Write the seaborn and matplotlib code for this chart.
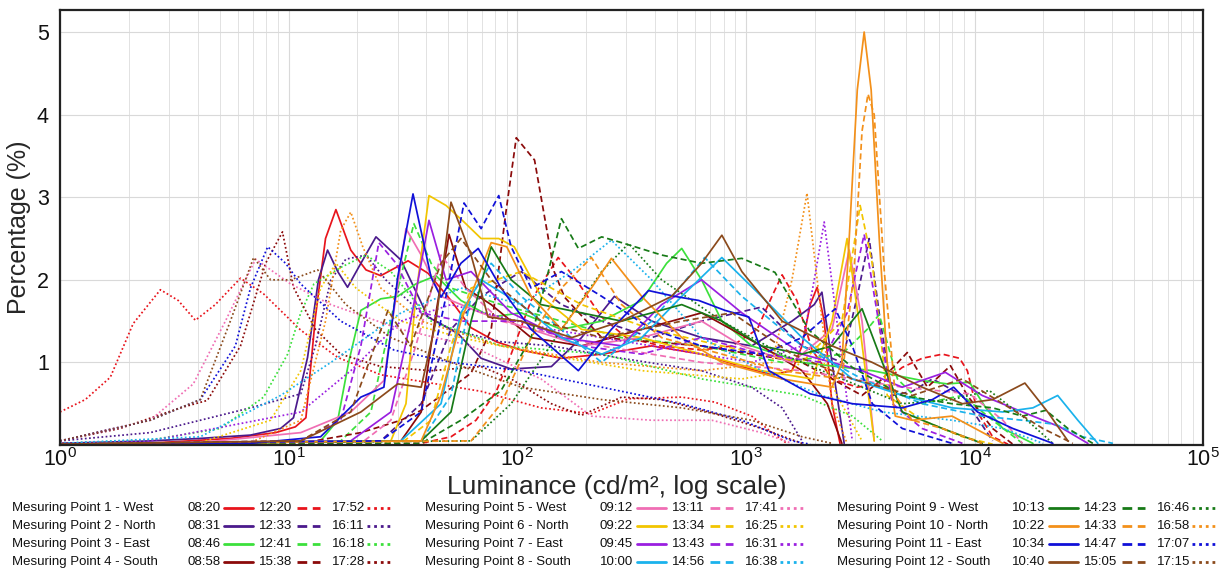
import matplotlib
matplotlib.use("Agg")
import matplotlib.pyplot as plt
from matplotlib.lines import Line2D
from matplotlib.ticker import LogLocator, FixedLocator, NullFormatter
import seaborn as sns

# ---- data: luminance (cd/m²) and percentage (%) ----
# Point 1 - West
p1_0820_lum = [1, 2.75, 5.56, 8.77, 10.7, 11.9, 13.1, 14.5, 16.1, 18.7, 21.8, 25.3, 29.5, 33.3, 40.7, 51.3, 62.8, 81, 104, 156, 234, 387, 640, 960, 1300, 1590, 1760, 1910, 2050, 2200, 2380, 2580]
p1_0820_pct = [0.02, 0.03, 0.08, 0.15, 0.22, 0.33, 1.55, 2.5, 2.85, 2.36, 2.12, 2.05, 2.15, 2.23, 2.08, 1.75, 1.42, 1.25, 1.15, 1.05, 1.1, 1.2, 1.1, 0.95, 0.85, 0.9, 1.2, 1.7, 1.91, 1.5, 0.5, 0.02]
p1_1220_lum = [1, 18.7, 38, 51.3, 66, 81, 94, 115, 151, 181, 234, 300, 428, 640, 870, 1120, 1300, 1440, 1670, 1950, 2380, 3070, 3950, 4830, 5900, 7240, 8600, 9300, 10300, 12000, 14000]
p1_1220_pct = [0.01, 0.01, 0.02, 0.1, 0.3, 0.65, 1.1, 1.75, 2.27, 2.0, 1.55, 1.3, 1.2, 1.15, 1.2, 1.4, 1.8, 2.06, 1.75, 1.15, 0.8, 0.7, 0.75, 0.94, 1.05, 1.1, 1.05, 0.9, 0.4, 0.1, 0.01]
p1_1752_lum = [1, 1.29, 1.66, 2.09, 2.75, 3.29, 3.91, 4.78, 6.16, 7.77, 11.3, 16.4, 25.3, 42, 69.5, 127, 211, 307, 524, 730, 1060, 1300, 1510]
p1_1752_pct = [0.4, 0.55, 0.82, 1.47, 1.88, 1.75, 1.51, 1.7, 2.02, 1.83, 1.39, 1.06, 0.85, 0.75, 0.65, 0.45, 0.38, 0.56, 0.58, 0.52, 0.35, 0.15, 0.02]

# Point 2 - North
p2_0831_lum = [1, 2.48, 4.11, 6.81, 9.22, 10.5, 12.1, 13.5, 14.8, 16.4, 18.1, 20.7, 24.1, 31, 40.7, 55, 69.5, 94, 141, 191, 266, 387, 640, 1060, 1590, 1990, 2150, 2380, 2690]
p2_0831_pct = [0.02, 0.05, 0.08, 0.12, 0.2, 0.33, 1.06, 2.0, 2.36, 2.1, 1.91, 2.2, 2.52, 2.24, 1.55, 1.35, 1.05, 0.92, 0.95, 1.3, 1.8, 1.5, 1.3, 1.2, 1.5, 1.7, 1.85, 1.0, 0.02]
p2_1233_lum = [1, 11.3, 25.3, 38, 51.3, 69.5, 104, 156, 234, 387, 640, 1170, 1760, 2630, 3070, 3460, 3870, 4370, 5340, 6540, 8850, 12000]
p2_1233_pct = [0.01, 0.02, 0.05, 0.5, 1.4, 1.8, 2.1, 1.7, 1.5, 1.3, 1.5, 1.67, 1.2, 1.0, 1.8, 2.5, 1.5, 0.6, 0.65, 0.8, 0.6, 0.05]
p2_1611_lum = [1, 2.48, 4.11, 6.81, 11.3, 13.1, 15.3, 17.8, 21.8, 26.6, 38, 51.3, 85, 141, 286, 640, 1060, 1440, 1760]
p2_1611_pct = [0.05, 0.15, 0.3, 0.45, 0.62, 1.2, 2.0, 2.25, 2.3, 2.0, 1.6, 1.4, 1.25, 1.2, 1.05, 0.9, 0.7, 0.45, 0.05]

# Point 3 - East
p3_0846_lum = [1, 6.81, 13.8, 16.4, 18.3, 20.7, 25.3, 30, 36, 44.1, 56.7, 76.9, 104, 156, 234, 350, 450, 524, 640, 785, 1060, 1760, 3570, 5900, 7600, 9500, 11200, 13300, 18000]
p3_0846_pct = [0.01, 0.02, 0.05, 0.3, 1.0, 1.63, 1.77, 1.8, 1.95, 2.05, 1.75, 1.55, 1.6, 1.4, 1.5, 1.75, 2.2, 2.38, 2.0, 1.5, 1.2, 1.0, 0.9, 0.78, 0.74, 0.76, 0.45, 0.2, 0.02]
p3_1241_lum = [1, 16.9, 22.9, 29.5, 35.3, 42, 51.3, 85, 156, 286, 640, 1440, 2630, 3390, 3830, 4600, 5900, 8850, 12000, 16200]
p3_1241_pct = [0.01, 0.05, 0.4, 1.8, 2.68, 2.2, 1.9, 1.7, 1.5, 1.3, 1.2, 1.0, 1.1, 1.4, 1.58, 0.8, 0.5, 0.6, 0.3, 0.02]
p3_1618_lum = [1, 2.48, 5.03, 7.77, 9.9, 11.3, 12.9, 16.9, 21.8, 28, 42, 85, 234, 640, 1760, 2920, 3950]
p3_1618_pct = [0.02, 0.06, 0.2, 0.58, 1.1, 1.6, 1.95, 2.15, 2.3, 2.1, 1.5, 1.2, 1.1, 0.8, 0.6, 0.35, 0.05]

# Point 4 - South
p4_0858_lum = [1, 31, 38, 44.1, 50.3, 59.5, 76.9, 115, 191, 350, 640, 1170, 1760, 2270, 2630]
p4_0858_pct = [0.01, 0.05, 0.4, 1.6, 2.55, 1.9, 1.7, 1.3, 1.2, 1.4, 1.6, 1.2, 0.9, 0.5, 0.02]
p4_1538_lum = [1, 11.3, 20.7, 31, 38, 62.8, 76.9, 89, 99, 119, 145, 161, 234, 640, 1760, 3220, 3950, 5080, 6220, 7850, 9300, 12000, 14700]
p4_1538_pct = [0.01, 0.02, 0.15, 0.3, 0.42, 0.87, 1.4, 2.8, 3.72, 3.45, 2.1, 1.79, 1.3, 1.2, 1.0, 0.6, 0.8, 1.12, 0.7, 0.96, 0.6, 0.2, 0.01]
p4_1728_lum = [1, 1.83, 3.36, 4.41, 6.16, 7.93, 9.4, 10.5, 13.1, 16.9, 25.3, 42, 69.5, 94, 141, 191, 286, 428, 730, 1170, 1760]
p4_1728_pct = [0.05, 0.2, 0.45, 0.54, 1.2, 2.2, 2.58, 1.91, 1.4, 1.1, 0.95, 0.9, 0.95, 0.8, 0.5, 0.36, 0.58, 0.55, 0.38, 0.2, 0.02]

# Point 5 - West
p5_0912_lum = [1, 4.11, 11.3, 18.7, 26.1, 29.5, 32.6, 38, 46.4, 69.5, 115, 191, 350, 640, 960, 1590, 2380, 2830, 3220, 3640]
p5_0912_pct = [0.01, 0.03, 0.15, 0.4, 0.78, 1.8, 2.62, 2.3, 1.8, 1.6, 1.4, 1.2, 1.3, 1.5, 1.2, 1.0, 1.4, 2.36, 1.5, 0.05]
p5_1311_lum = [1, 20.7, 28, 36, 46.4, 59.5, 85, 234, 640, 1760, 4830, 9500, 13300, 16200]
p5_1311_pct = [0.01, 0.02, 0.3, 1.2, 2.3, 1.9, 1.5, 1.2, 1.0, 0.9, 0.7, 0.62, 0.3, 0.02]
p5_1741_lum = [1, 2.48, 3.83, 5.29, 7.17, 10.2, 15.3, 31, 62.8, 127, 211, 387, 710, 1170, 1590]
p5_1741_pct = [0.05, 0.3, 0.74, 1.5, 2.25, 1.95, 1.7, 1.4, 1.2, 0.8, 0.35, 0.3, 0.3, 0.15, 0.02]

# Point 6 - North
p6_0922_lum = [1, 28, 32.6, 36, 41.1, 48.8, 58.5, 69.5, 83, 97, 127, 191, 350, 640, 1170, 1950, 2380, 2770, 3160, 3640]
p6_0922_pct = [0.01, 0.05, 0.5, 1.8, 3.02, 2.9, 2.7, 2.5, 2.5, 2.4, 1.8, 1.4, 1.3, 1.1, 0.9, 0.8, 1.5, 2.5, 1.4, 0.05]
p6_1334_lum = [1, 31, 42, 51.3, 62.8, 104, 191, 387, 785, 1760, 2630, 3160, 3570, 4150, 5900, 8850, 12000]
p6_1334_pct = [0.01, 0.02, 0.3, 1.2, 1.9, 2.1, 1.7, 1.4, 1.2, 1.0, 1.5, 2.9, 2.2, 0.6, 0.3, 0.1, 0.01]
p6_1625_lum = [1, 4.11, 8.34, 11.3, 13.8, 16.1, 19.7, 31, 56.7, 127, 350, 960, 1590, 2050, 2500, 3220]
p6_1625_pct = [0.01, 0.03, 0.3, 0.9, 1.9, 2.2, 1.9, 1.5, 1.3, 1.1, 0.9, 0.8, 0.9, 1.2, 0.6, 0.05]

# Point 7 - East
p7_0945_lum = [1, 18.7, 28, 34.2, 41.1, 48.8, 62.8, 94, 156, 286, 428, 640, 960, 1760, 3220, 4830, 7450, 10800, 16200, 23600, 31300]
p7_0945_pct = [0.01, 0.05, 0.4, 1.5, 2.72, 2.0, 2.1, 1.6, 1.3, 1.2, 1.7, 2.0, 1.6, 1.1, 0.9, 0.7, 0.88, 0.6, 0.4, 0.22, 0.02]
p7_1343_lum = [1, 11.3, 16.9, 20.7, 24.8, 29.5, 38, 56.7, 104, 191, 350, 640, 1170, 2150, 2770, 3290, 3750, 4370, 5900, 8850]
p7_1343_pct = [0.01, 0.05, 0.3, 1.2, 2.45, 2.2, 1.6, 1.5, 1.5, 1.2, 1.1, 1.3, 1.1, 1.0, 1.6, 2.55, 1.6, 0.5, 0.2, 0.02]
p7_1631_lum = [1, 2.48, 11.3, 18.7, 31, 51.3, 141, 387, 1060, 1760, 1990, 2200, 2500, 2920]
p7_1631_pct = [0.02, 0.05, 0.4, 0.9, 1.5, 1.7, 1.4, 1.2, 1.0, 1.2, 2.0, 2.7, 1.5, 0.05]

# Point 8 - South
p8_1000_lum = [1, 31, 46.4, 56.7, 69.5, 104, 156, 234, 350, 524, 785, 1170, 1760, 2920, 4830, 7970, 13300, 18000, 23100, 28300, 34600]
p8_1000_pct = [0.01, 0.05, 0.5, 1.6, 2.0, 1.7, 1.3, 1.1, 1.3, 1.8, 2.27, 1.8, 1.3, 0.8, 0.6, 0.45, 0.4, 0.45, 0.6, 0.3, 0.02]
p8_1456_lum = [1, 38, 51.3, 62.8, 76.9, 104, 156, 234, 387, 660, 960, 1760, 3220, 5900, 10800, 16200, 22600, 29700, 40300]
p8_1456_pct = [0.01, 0.05, 0.6, 1.8, 2.2, 1.8, 1.4, 1.0, 1.5, 2.27, 1.8, 1.2, 0.8, 0.5, 0.35, 0.3, 0.25, 0.1, 0.02]
p8_1638_lum = [1, 4.11, 9.22, 15.3, 31, 56.7, 104, 173, 258, 387, 640, 1170, 2150, 3950, 7970, 13300, 19900]
p8_1638_pct = [0.02, 0.1, 0.6, 1.0, 1.6, 1.9, 1.7, 2.1, 2.48, 2.0, 1.3, 0.9, 0.6, 0.4, 0.3, 0.2, 0.02]

# Point 9 - West
p9_1013_lum = [1, 38, 51.3, 62.8, 76.9, 94, 127, 191, 286, 524, 785, 1170, 1760, 2380, 3220, 3950, 4830, 7240, 10800]
p9_1013_pct = [0.01, 0.05, 0.4, 1.5, 2.4, 2.0, 1.7, 1.6, 1.5, 1.7, 1.5, 1.2, 1.1, 1.2, 1.65, 1.0, 0.4, 0.2, 0.02]
p9_1423_lum = [1, 38, 56.7, 85, 115, 134, 156, 185, 234, 286, 428, 640, 960, 1340, 1890, 2920, 4830, 7970, 12000, 16200, 20500, 25600, 32900]
p9_1423_pct = [0.01, 0.02, 0.3, 0.66, 1.3, 2.0, 2.74, 2.38, 2.52, 2.45, 2.3, 2.2, 2.26, 2.09, 1.39, 0.94, 0.6, 0.5, 0.45, 0.35, 0.42, 0.2, 0.02]
p9_1646_lum = [1, 62.8, 94, 156, 234, 307, 428, 785, 1440, 2630, 4830, 7970, 11600, 16200, 22000]
p9_1646_pct = [0.01, 0.05, 0.5, 1.4, 2.1, 2.44, 2.0, 1.5, 1.1, 0.8, 0.5, 0.55, 0.66, 0.35, 0.02]

# Point 10 - North
p10_1022_lum = [1, 38, 46.4, 56.7, 76.9, 90, 115, 156, 211, 258, 350, 524, 785, 1440, 2380, 2630, 2830, 3070, 3290, 3530, 3830, 4150, 4500, 5340, 7970, 13300]
p10_1022_pct = [0.01, 0.05, 0.6, 1.5, 2.45, 2.4, 1.8, 1.4, 1.9, 2.26, 1.8, 1.3, 1.0, 0.8, 0.7, 1.0, 2.5, 4.3, 5.0, 4.3, 2.5, 1.0, 0.35, 0.3, 0.35, 0.02]
p10_1433_lum = [1, 62.8, 85, 115, 156, 211, 286, 428, 785, 1440, 2630, 2970, 3220, 3420, 3640, 4030, 4500, 5340, 7240, 10800]
p10_1433_pct = [0.01, 0.05, 0.5, 1.3, 1.9, 2.27, 1.7, 1.3, 1.1, 0.9, 0.8, 2.1, 3.8, 4.25, 4.0, 2.1, 0.6, 0.3, 0.2, 0.02]
p10_1658_lum = [1, 6.81, 11.3, 14.5, 16.9, 18.7, 21.1, 25.3, 38, 85, 234, 640, 1300, 1590, 1850, 2050, 2380, 2770]
p10_1658_pct = [0.01, 0.03, 0.3, 1.5, 2.6, 2.82, 2.4, 1.9, 1.5, 1.2, 1.0, 0.9, 1.0, 2.0, 3.05, 2.0, 0.5, 0.02]

# Point 11 - East
p11_1034_lum = [1, 6.81, 13.8, 20.7, 26.1, 30, 35, 42, 46.4, 56.7, 67.5, 85, 115, 185, 258, 375, 488, 622, 810, 1030, 1260, 1910, 2920, 4830, 6540, 8100, 10300, 14700, 22000]
p11_1034_pct = [0.01, 0.02, 0.1, 0.58, 0.7, 2.03, 3.04, 2.03, 1.79, 2.2, 2.38, 1.9, 1.4, 0.9, 1.4, 1.87, 1.8, 1.75, 1.63, 1.55, 0.9, 0.62, 0.5, 0.45, 0.55, 0.7, 0.4, 0.2, 0.02]
p11_1447_lum = [1, 25.3, 38, 48.8, 58.5, 69.5, 83, 94, 115, 156, 234, 387, 640, 1170, 1760, 2460, 2920, 3570, 4830, 7970]
p11_1447_pct = [0.01, 0.05, 0.4, 1.8, 2.93, 2.62, 3.02, 2.4, 1.9, 2.1, 1.8, 1.4, 1.2, 1.1, 1.3, 1.65, 1.2, 0.5, 0.2, 0.02]
p11_1707_lum = [1, 2.48, 4.11, 5.85, 6.81, 8.1, 9.7, 11.3, 16.9, 28.9, 51.3, 104, 234, 524, 960, 1590, 1910]
p11_1707_pct = [0.05, 0.3, 0.55, 1.2, 1.9, 2.4, 2.2, 1.95, 1.5, 1.15, 1.0, 0.9, 0.7, 0.5, 0.3, 0.05, 0.01]

# Point 12 - South
p12_1040_lum = [1, 11.3, 20.7, 30, 38, 44.1, 51.3, 62.8, 74.5, 104, 173, 286, 473, 640, 785, 960, 1440, 2380, 3570, 5900, 8850, 12000, 16600, 20900, 25600]
p12_1040_pct = [0.01, 0.05, 0.4, 0.74, 0.7, 1.5, 2.94, 2.3, 1.55, 1.5, 1.3, 1.5, 1.8, 2.2, 2.54, 2.1, 1.5, 1.2, 1.0, 0.7, 0.5, 0.55, 0.75, 0.4, 0.05]
p12_1505_lum = [1, 11.3, 18.7, 27.2, 34.2, 46.4, 56.7, 76.9, 127, 234, 524, 870, 1590, 2920, 5340, 8850, 13300, 19900, 26900]
p12_1505_pct = [0.01, 0.05, 0.4, 1.63, 1.2, 2.2, 2.5, 2.0, 1.5, 1.3, 1.5, 1.6, 1.1, 0.8, 0.6, 0.8, 0.5, 0.2, 0.02]
p12_1715_lum = [1, 2.48, 4.11, 5.56, 7.03, 8.34, 10.2, 13.4, 17.8, 28, 51.3, 104, 234, 524, 1060, 1760, 2380]
p12_1715_pct = [0.05, 0.3, 0.55, 1.5, 2.27, 2.0, 2.0, 2.12, 1.7, 1.3, 1.0, 0.7, 0.55, 0.45, 0.3, 0.1, 0.02]

point_names = ["Mesuring Point 1 - West", "Mesuring Point 2 - North", "Mesuring Point 3 - East",
               "Mesuring Point 4 - South", "Mesuring Point 5 - West", "Mesuring Point 6 - North",
               "Mesuring Point 7 - East", "Mesuring Point 8 - South", "Mesuring Point 9 - West",
               "Mesuring Point 10 - North", "Mesuring Point 11 - East", "Mesuring Point 12 - South"]
point_times = [["08:20", "12:20", "17:52"], ["08:31", "12:33", "16:11"], ["08:46", "12:41", "16:18"],
               ["08:58", "15:38", "17:28"], ["09:12", "13:11", "17:41"], ["09:22", "13:34", "16:25"],
               ["09:45", "13:43", "16:31"], ["10:00", "14:56", "16:38"], ["10:13", "14:23", "16:46"],
               ["10:22", "14:33", "16:58"], ["10:34", "14:47", "17:07"], ["10:40", "15:05", "17:15"]]
point_colors = ["#e8141c", "#4b1a8c", "#3ce03c", "#8b0a0a", "#f06eb4", "#f2c500",
                "#9a1fe0", "#1ab2ec", "#177a17", "#f3901a", "#1010d8", "#8b4a1c"]

series = [
    [(p1_0820_lum, p1_0820_pct), (p1_1220_lum, p1_1220_pct), (p1_1752_lum, p1_1752_pct)],
    [(p2_0831_lum, p2_0831_pct), (p2_1233_lum, p2_1233_pct), (p2_1611_lum, p2_1611_pct)],
    [(p3_0846_lum, p3_0846_pct), (p3_1241_lum, p3_1241_pct), (p3_1618_lum, p3_1618_pct)],
    [(p4_0858_lum, p4_0858_pct), (p4_1538_lum, p4_1538_pct), (p4_1728_lum, p4_1728_pct)],
    [(p5_0912_lum, p5_0912_pct), (p5_1311_lum, p5_1311_pct), (p5_1741_lum, p5_1741_pct)],
    [(p6_0922_lum, p6_0922_pct), (p6_1334_lum, p6_1334_pct), (p6_1625_lum, p6_1625_pct)],
    [(p7_0945_lum, p7_0945_pct), (p7_1343_lum, p7_1343_pct), (p7_1631_lum, p7_1631_pct)],
    [(p8_1000_lum, p8_1000_pct), (p8_1456_lum, p8_1456_pct), (p8_1638_lum, p8_1638_pct)],
    [(p9_1013_lum, p9_1013_pct), (p9_1423_lum, p9_1423_pct), (p9_1646_lum, p9_1646_pct)],
    [(p10_1022_lum, p10_1022_pct), (p10_1433_lum, p10_1433_pct), (p10_1658_lum, p10_1658_pct)],
    [(p11_1034_lum, p11_1034_pct), (p11_1447_lum, p11_1447_pct), (p11_1707_lum, p11_1707_pct)],
    [(p12_1040_lum, p12_1040_pct), (p12_1505_lum, p12_1505_pct), (p12_1715_lum, p12_1715_pct)],
]

line_styles = ["-", (0, (3.5, 2)), (0, (1, 1.4))]

sns.set_theme(style="white")
plt.rcParams["font.family"] = ["Liberation Sans", "DejaVu Sans"]
plt.rcParams["mathtext.default"] = "regular"

fig = plt.figure(figsize=(12.24, 5.72), dpi=100)
ax = fig.add_axes([0.049, 0.222, 0.934, 0.761])

for color, curves in zip(point_colors, series):
    for (lum, pct), ls in zip(curves, line_styles):
        sns.lineplot(x=lum, y=pct, ax=ax, color=color, linestyle=ls, linewidth=1.25,
                     sort=False, estimator=None, solid_joinstyle="round",
                     dash_joinstyle="round")

ax.set_xscale("log")
ax.set_xlim(1, 1e5)
ax.set_ylim(0, 5.27)
ax.xaxis.set_major_locator(LogLocator(base=10, numticks=10))
ax.xaxis.set_minor_locator(LogLocator(base=10, subs=range(2, 10), numticks=60))
ax.xaxis.set_minor_formatter(NullFormatter())
ax.yaxis.set_major_locator(FixedLocator([1, 2, 3, 4, 5]))
ax.grid(True, which="major", color="#d9d9d9", linewidth=0.8)
ax.grid(True, which="minor", axis="x", color="#e2e2e2", linewidth=0.7)
ax.set_axisbelow(True)
ax.tick_params(axis="both", which="both", length=0, labelsize=15.5, colors="#111111")
ax.tick_params(axis="x", pad=2)
ax.tick_params(axis="y", pad=8)
for sp in ax.spines.values():
    sp.set_color("#222222")
    sp.set_linewidth(1.6)
ax.set_xlabel("Luminance (cd/m², log scale)", fontsize=19)
ax.set_ylabel("Percentage (%)", fontsize=18)
ax.xaxis.set_label_coords(0.487, -0.068)
ax.yaxis.set_label_coords(-0.025, 0.5)

# legend table below the axes
W, H = 1224, 572
block_x = [12, 425, 837]
row_y = [508, 526, 544, 562]
time_dx = [175, 247, 320]
line_dx = [(212, 241), (285, 308), (355, 380)]
for i, name in enumerate(point_names):
    bx = block_x[i // 4]
    ry = row_y[i % 4]
    yf = 1 - ry / H
    fig.text(bx / W, yf, name, fontsize=9.5, va="center", ha="left", color="#111111")
    for j in range(3):
        fig.text((bx + time_dx[j]) / W, yf, point_times[i][j], fontsize=9.5,
                 va="center", ha="left", color="#111111")
        x0, x1 = line_dx[j]
        fig.add_artist(Line2D([(bx + x0) / W, (bx + x1) / W], [yf, yf],
                              transform=fig.transFigure, color=point_colors[i],
                              linestyle=line_styles[j], linewidth=2.0))

fig.savefig("out.png", dpi=100)
